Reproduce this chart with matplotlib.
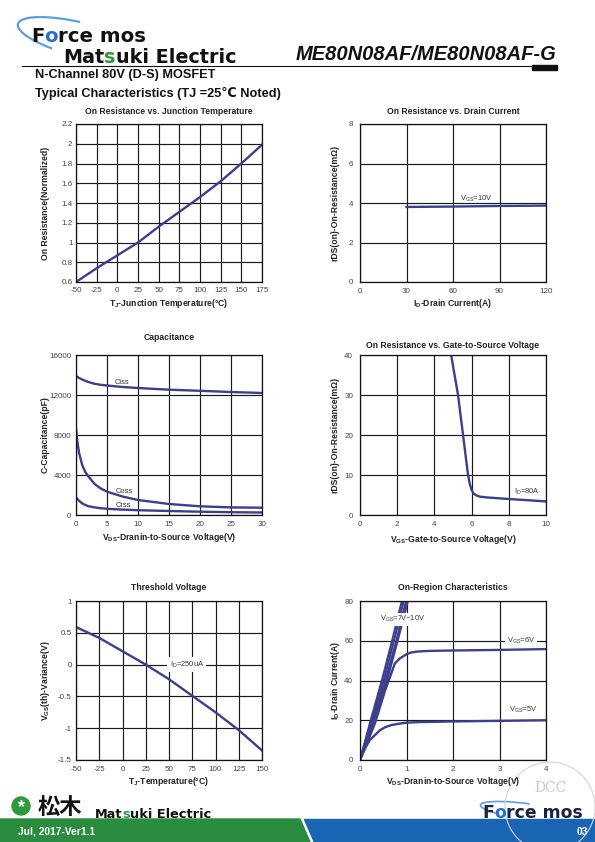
import matplotlib
matplotlib.use("Agg")
import matplotlib.pyplot as plt
from matplotlib.patches import Polygon, Circle, Rectangle, Arc
from matplotlib.ticker import FuncFormatter

plt.rcParams['font.family'] = ['Liberation Sans', 'DejaVu Sans']

W, H = 595, 842
LINE = '#3b3f8c'

# On resistance vs junction temperature
tj_temp = [-50, -25, 0, 25, 50, 75, 100, 125, 150, 175]
rds_norm = [0.6, 0.74, 0.87, 1.0, 1.16, 1.31, 1.46, 1.62, 1.8, 1.99]

# On resistance vs drain current
id_current = [30, 60, 90, 120]
rds_id = [3.80, 3.82, 3.85, 3.87]

# Capacitance
vds_cap = [0, 0.25, 0.5, 1, 1.5, 2, 3, 4, 5, 7.5, 10, 15, 20, 25, 30]
ciss = [13900, 13800, 13700, 13550, 13420, 13300, 13120, 13020, 12950,
        12800, 12700, 12530, 12420, 12300, 12200]
coss = [8600, 7200, 6200, 5000, 4300, 3850, 3100, 2650, 2330, 1850,
        1500, 1100, 870, 760, 730]
crss = [1750, 1580, 1420, 1160, 1000, 880, 760, 680, 620, 540,
        480, 400, 330, 280, 250]

# On resistance vs gate-to-source voltage
vgs = [4.9, 5.27, 5.54, 5.8, 5.9, 6.0, 6.1, 6.25, 6.43, 6.8, 8.0, 9.0, 10.0]
rds_vgs = [40, 30, 20, 10.3, 7.8, 6.3, 5.4, 4.9, 4.6, 4.4, 4.0, 3.7, 3.4]

# Threshold voltage
tj_vth = [-50, -25, 0, 25, 50, 75, 100, 125, 150]
vth_var = [0.59, 0.42, 0.21, 0.0, -0.23, -0.49, -0.75, -1.03, -1.35]

# On-region characteristics
id_steep = [0, 20, 40, 60, 80]
vds_steep = [[0, 0.23, 0.47, 0.69, 0.90],
             [0, 0.25, 0.51, 0.73, 0.94],
             [0, 0.28, 0.55, 0.78, 0.99],
             [0, 0.30, 0.58, 0.81, 1.03]]
vds_6v = [0, 0.15, 0.32, 0.54, 0.75, 0.85, 1.0, 1.1, 1.25, 1.5, 2, 3, 4]
id_6v = [0, 8.5, 18.4, 35, 48.6, 51, 53.2, 54.1, 54.6, 54.9, 55.1, 55.4, 55.8]
vds_5v = [0, 0.1, 0.21, 0.43, 0.55, 0.68, 0.85, 1.0, 1.3, 1.6, 2, 3, 4]
id_5v = [0, 5.5, 10, 15, 16.6, 17.6, 18.3, 18.8, 19.1, 19.2, 19.4, 19.7, 20]

fig = plt.figure(figsize=(W / 100, H / 100), dpi=100)
bg = fig.add_axes([0, 0, 1, 1])
bg.set_xlim(0, W)
bg.set_ylim(H, 0)
bg.axis('off')
renderer = fig.canvas.get_renderer()


def pieces(x, y, parts, size, family='DejaVu Sans'):
    # draws coloured chunks of one word next to each other
    for s, c in parts:
        t = bg.text(x, y, s, color=c, fontsize=size, fontweight='bold',
                    family=family, va='baseline', ha='left')
        x += t.get_window_extent(renderer).width


def px_axes(x0, y0, x1, y1):
    return fig.add_axes([x0 / W, 1 - y1 / H, (x1 - x0) / W, (y1 - y0) / H])


def setup(ax, xlim, ylim, xticks, yticks, xpad, ypad):
    ax.set_xlim(xlim)
    ax.set_ylim(ylim)
    ax.set_xticks(xticks)
    ax.set_yticks(yticks)
    fmt = FuncFormatter(lambda v, p: f'{v:g}')
    ax.xaxis.set_major_formatter(fmt)
    ax.yaxis.set_major_formatter(fmt)
    ax.grid(True, color='#1a1a1a', lw=0.85)
    ax.set_axisbelow(True)
    ax.tick_params(axis='x', length=0, labelsize=5.8, labelcolor='#444', pad=xpad)
    ax.tick_params(axis='y', length=0, labelsize=5.8, labelcolor='#444', pad=ypad)
    for s in ax.spines.values():
        s.set_color('#111')
        s.set_linewidth(0.9)


def labels(ax_box, title, title_y, xlabel, xlabel_y, ylabel, ylabel_x):
    x0, y0, x1, y1 = ax_box
    cx = (x0 + x1) / 2
    kw = dict(fontsize=6.2, fontweight='bold', color='#222', ha='center', va='center')
    bg.text(cx, title_y, title, **kw)
    bg.text(cx, xlabel_y, xlabel, **kw)
    bg.text(ylabel_x, (y0 + y1) / 2, ylabel, rotation=90, **kw)


# header
bg.add_patch(Arc((82, 40), 132, 34, angle=14, theta1=150, theta2=250,
                 color='#5aa0e0', lw=1.6))
pieces(31, 42, [('F', '#111'), ('o', '#2a6fd0'), ('rce mos', '#111')], 14.2)
pieces(63, 63, [('Mat', '#111'), ('s', '#2e9a3c'), ('uki Electric', '#111')], 13.8)
bg.text(556, 60, 'ME80N08AF/ME80N08AF-G', ha='right', va='baseline',
        fontsize=14.5, fontweight='bold', style='italic', color='#111')
bg.plot([22, 556], [66, 66], color='#111', lw=0.8)
bg.add_patch(Rectangle((532, 65), 25, 5, color='#111'))
bg.text(35, 75, 'N-Channel 80V (D-S) MOSFET', fontsize=9.2, fontweight='bold',
        va='center', color='#111')
bg.text(35, 93, 'Typical Characteristics (TJ =25\u2103 Noted)', fontsize=9.2,
        fontweight='bold', va='center', color='#111')

# chart 1
box1 = (76, 124, 262, 282)
ax1 = px_axes(*box1)
setup(ax1, (-50, 175), (0.6, 2.2), range(-50, 176, 25),
      [0.6, 0.8, 1, 1.2, 1.4, 1.6, 1.8, 2, 2.2], 3.5, 2.5)
ax1.plot(tj_temp, rds_norm, color=LINE, lw=1.7)
labels(box1, 'On Resistance vs. Junction Temperature', 111,
       r'T$\mathregular{_J}$-Junction Temperature(°C)', 304,
       'On Resistance(Normalized)', 45)

# chart 2
box2 = (360, 124, 546, 282)
ax2 = px_axes(*box2)
setup(ax2, (0, 120), (0, 8), [0, 30, 60, 90, 120], [0, 2, 4, 6, 8], 4, 5)
ax2.plot(id_current, rds_id, color=LINE, lw=1.7)
ax2.text(75, 4.2, r'V$\mathregular{_{GS}}$=10V', fontsize=5.4, color='#333',
         ha='center', va='center')
labels(box2, 'On Resistance vs. Drain Current', 111,
       r'I$\mathregular{_D}$-Drain Current(A)', 304,
       'rDS(on)-On-Resistance(m\u03a9)', 335)

# chart 3
box3 = (76, 355, 262, 515)
ax3 = px_axes(*box3)
setup(ax3, (0, 30), (0, 16000), range(0, 31, 5), range(0, 16001, 4000), 4, 3.5)
for series in (ciss, coss, crss):
    ax3.plot(vds_cap, series, color=LINE, lw=1.7)
for name, xv, yv in (('Ciss', 7.4, 13300), ('Coss', 7.7, 2400), ('Crss', 7.6, 970)):
    ax3.text(xv, yv, name, fontsize=5.4, color='#333', ha='center', va='center')
labels(box3, 'Capacitance', 338,
       r'V$\mathregular{_{DS}}$-Dranin-to-Source Voltage(V)', 538,
       'C-Capacitance(pF)', 45)

# chart 4
box4 = (360, 355, 546, 515)
ax4 = px_axes(*box4)
setup(ax4, (0, 10), (0, 40), range(0, 11, 2), range(0, 41, 10), 4, 5)
ax4.plot(vgs, rds_vgs, color=LINE, lw=1.7)
ax4.text(8.97, 5.7, r'I$\mathregular{_D}$=80A', fontsize=5.4, color='#333',
         ha='center', va='center')
labels(box4, 'On Resistance vs. Gate-to-Source Voltage', 345,
       r'V$\mathregular{_{GS}}$-Gate-to-Source Voltage(V)', 539,
       'rDS(on)-On-Resistance(m\u03a9)', 335)

# chart 5
box5 = (76, 601, 262, 760)
ax5 = px_axes(*box5)
setup(ax5, (-50, 150), (-1.5, 1), range(-50, 151, 25),
      [-1.5, -1, -0.5, 0, 0.5, 1], 4, 3)
ax5.plot(tj_vth, vth_var, color=LINE, lw=1.7)
ax5.text(69, 0, r'I$\mathregular{_D}$=250uA', fontsize=5.4, color='#333',
         ha='center', va='center',
         bbox=dict(facecolor='white', edgecolor='none', pad=1.5))
labels(box5, 'Threshold Voltage', 588,
       r'T$\mathregular{_J}$-Temperature(°C)', 781,
       r'V$\mathregular{_{GS}}$(th)-Variance(V)', 45)

# chart 6
box6 = (360, 601, 546, 760)
ax6 = px_axes(*box6)
setup(ax6, (0, 4), (0, 80), range(0, 5), range(0, 81, 20), 4, 5)
for xs in vds_steep:
    ax6.plot(xs, id_steep, color=LINE, lw=1.5)
ax6.plot(vds_6v, id_6v, color=LINE, lw=1.7)
ax6.plot(vds_5v, id_5v, color=LINE, lw=1.7)
ax6.text(0.91, 70.8, r'V$\mathregular{_{GS}}$=7V~10V', fontsize=5.4, color='#333',
         ha='center', va='center',
         bbox=dict(facecolor='white', edgecolor='none', pad=0.8))
ax6.text(3.46, 60, r'V$\mathregular{_{GS}}$=6V', fontsize=5.4, color='#333',
         ha='center', va='center',
         bbox=dict(facecolor='white', edgecolor='none', pad=1.5))
ax6.text(3.5, 25, r'V$\mathregular{_{GS}}$=5V', fontsize=5.4, color='#333',
         ha='center', va='center')
labels(box6, 'On-Region Characteristics', 587,
       r'V$\mathregular{_{DS}}$-Dranin-to-Source Voltage(V)', 781,
       r'I$\mathregular{_D}$-Drain Current(A)', 335)

# footer
bg.add_patch(Polygon([(0, 819), (300, 819), (310, 842), (0, 842)], color='#2a8c3e'))
bg.add_patch(Polygon([(304, 819), (W, 819), (W, 842), (314, 842)], color='#1a64b4'))
bg.text(18, 832, 'Jul, 2017-Ver1.1', color='white', fontsize=7.4,
        fontweight='bold', va='center')
bg.text(588, 832, '03', color='white', fontsize=7.4, fontweight='bold',
        va='center', ha='right')
bg.add_patch(Circle((21, 806), 9, color='#2e9a3c'))
bg.text(21, 808, '*', color='white', fontsize=13, fontweight='bold',
        ha='center', va='center')
bg.text(38, 807, '松木', family=['Noto Sans CJK JP'], fontsize=16,
        fontweight='bold', va='center', color='#111')
pieces(95, 818, [('Mat', '#111'), ('s', '#2e9a3c'), ('uki Electric', '#111')], 9.3)
pieces(482, 818, [('F', '#1a2440'), ('o', '#2a6fd0'), ('rce mos', '#1a2440')], 12.4)
bg.add_patch(Arc((530, 812), 100, 16, angle=8, theta1=170, theta2=260,
                 color='#5aa0e0', lw=1.2))
bg.add_patch(Circle((550, 807), 45, fill=False, color='#d4d4d4', lw=0.8))
bg.text(550, 788, 'DCC', family='DejaVu Serif', fontsize=10, color='#c8c8c8',
        ha='center', va='center')

fig.savefig('out.png', dpi=100)
